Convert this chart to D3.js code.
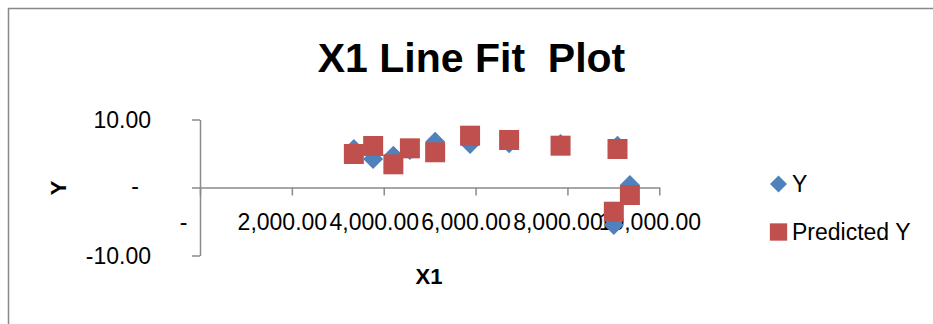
<!DOCTYPE html>
<html>
<head>
<meta charset="utf-8">
<script src="https://cdn.jsdelivr.net/npm/d3@7"></script>
<style>
  body { margin: 0; background: #fff; }
  svg { display: block; font-family: "Liberation Sans", Arial, sans-serif; }
</style>
</head>
<body>
<div id="chart"></div>
<script>
// values
var x1Values   = [3350, 3770, 4210, 4570, 5120, 5880, 6730, 7850, 9090, 9010, 9360];
var yValues    = [5.66, 4.19, 4.68, 5.51, 6.74, 6.40, 6.50, 6.40, 6.15, -5.51, 0.37];
var predValues = [4.93, 6.10, 3.41, 5.76, 5.18, 7.62, 6.99, 6.15, 5.66, -3.56, -1.10];
var xTicks = [0, 2000, 4000, 6000, 8000, 10000];
var yTicks = [-10, 0, 10];
var seriesNames = ["Y", "Predicted Y"];

var w = 933;
var h = 324;
var blue = "#4F81BD";
var red = "#C0504D";
var axisGrey = "#8a8a8a";

var svg = d3.select("#chart").append("svg")
    .attr("width", w)
    .attr("height", h);

// chart area border (runs off the right and bottom of the picture)
svg.append("path")
    .attr("d", "M8.5," + h + " V8.5 H" + w)
    .attr("fill", "none")
    .attr("stroke", "#888")
    .attr("stroke-width", 1.5);

var xScale = d3.scaleLinear().domain([0, 10000]).range([200, 659.3]);
var yScale = d3.scaleLinear().domain([-10, 10]).range([255.5, 119.5]);

// excel accounting style: zero shows as a dash, plain hyphen for negatives
var fmt = d3.formatLocale({ decimal: ".", thousands: ",", grouping: [3], currency: ["", ""], minus: "-" }).format(",.2f");
function acct(d) {
    return d === 0 ? "-" : fmt(d);
}

// x axis sits on y = 0
var xAxis = d3.axisBottom(xScale)
    .tickValues(xTicks)
    .tickSize(8)
    .tickSizeOuter(0)
    .tickPadding(18)
    .tickFormat(acct);

var gx = svg.append("g")
    .attr("transform", "translate(0," + yScale(0) + ")")
    .call(xAxis);

gx.selectAll("text")
    .attr("dx", d => d === 0 ? -17 : -10)
    .style("font-size", "23px")
    .style("font-family", "Liberation Sans, Arial, sans-serif")
    .attr("fill", "#000");

// y axis sits on x = 0
var yAxis = d3.axisLeft(yScale)
    .tickValues(yTicks)
    .tickSize(8)
    .tickSizeOuter(0)
    .tickPadding(41)
    .tickFormat(acct);

var gy = svg.append("g")
    .attr("transform", "translate(" + xScale(0) + ",0)")
    .call(yAxis);

gy.selectAll("text")
    .attr("dx", d => d === 0 ? -12 : 0)
    .attr("dy", d => d === 0 ? "0.27em" : "0.36em")
    .style("font-size", "23px")
    .style("font-family", "Liberation Sans, Arial, sans-serif")
    .attr("fill", "#000");

svg.selectAll(".domain, .tick line")
    .attr("stroke", axisGrey)
    .attr("stroke-width", 1.5);

// markers
var diamond = d3.symbol().type(d3.symbolSquare).size(200);
var square = d3.symbol().type(d3.symbolSquare).size(400);

svg.append("g").selectAll("path")
    .data(x1Values)
    .enter()
    .append("path")
    .attr("d", diamond)
    .attr("transform", (d, i) => "translate(" + xScale(d) + "," + yScale(yValues[i]) + ") rotate(45)")
    .attr("fill", blue);

svg.append("g").selectAll("path")
    .data(x1Values)
    .enter()
    .append("path")
    .attr("d", square)
    .attr("transform", (d, i) => "translate(" + xScale(d) + "," + yScale(predValues[i]) + ")")
    .attr("fill", red);

// title
svg.append("text")
    .attr("x", 471.5)
    .attr("y", 72)
    .attr("text-anchor", "middle")
    .style("white-space", "pre")
    .style("font-size", "41px")
    .style("font-weight", "bold")
    .text("X1 Line Fit  Plot");

// axis titles
svg.append("text")
    .attr("x", 429)
    .attr("y", 284)
    .attr("text-anchor", "middle")
    .style("font-size", "22px")
    .style("font-weight", "bold")
    .text("X1");

svg.append("text")
    .attr("transform", "translate(66,188) rotate(-90)")
    .attr("text-anchor", "middle")
    .style("font-size", "22px")
    .style("font-weight", "bold")
    .text("Y");

// legend
var legend = svg.append("g");
var legendY = [184, 232];

legend.append("path")
    .attr("d", d3.symbol().type(d3.symbolSquare).size(145))
    .attr("transform", "translate(778.5," + legendY[0] + ") rotate(45)")
    .attr("fill", blue);

legend.append("path")
    .attr("d", d3.symbol().type(d3.symbolSquare).size(300))
    .attr("transform", "translate(778.5," + legendY[1] + ")")
    .attr("fill", red);

legend.selectAll("text")
    .data(seriesNames)
    .enter()
    .append("text")
    .attr("x", 792)
    .attr("y", (d, i) => legendY[i] + 8)
    .style("font-size", "23px")
    .text(d => d);
</script>
</body>
</html>
